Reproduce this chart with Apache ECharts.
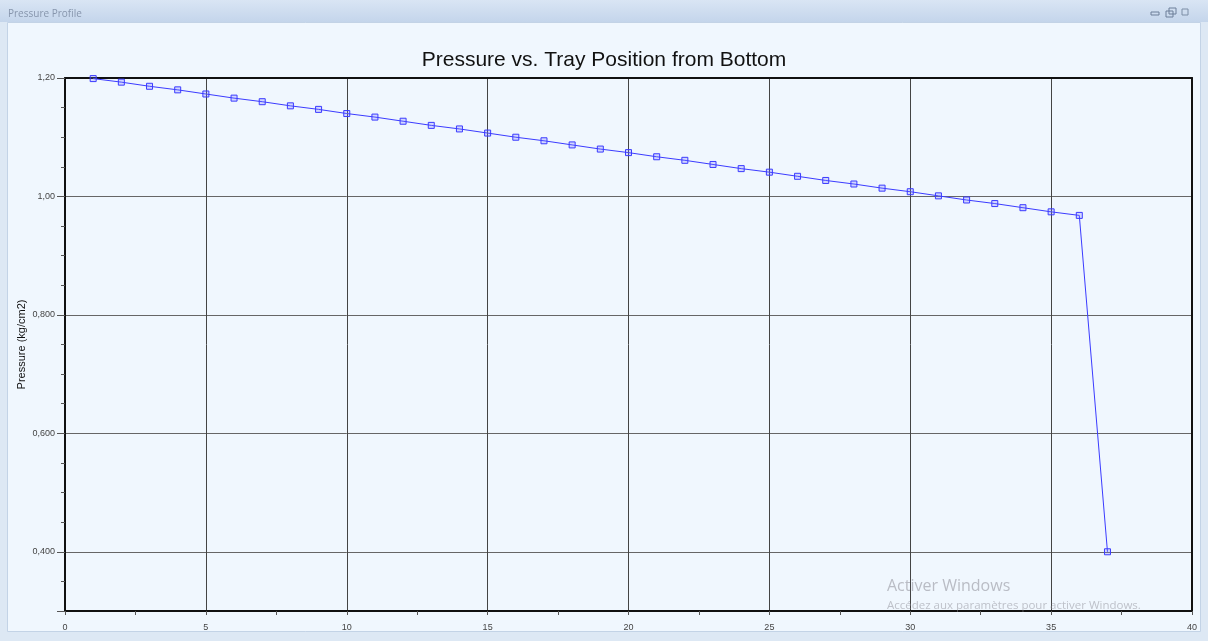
<!DOCTYPE html>
<html>
<head>
<meta charset="utf-8">
<script src="https://cdn.jsdelivr.net/npm/echarts@6/dist/echarts.min.js"></script>
<style>
html,body{margin:0;padding:0;background:#dde8f4;}
#c{width:1208px;height:641px;}
</style>
</head>
<body>
<div id="c"></div>
<script>
// ---- data ----
const trays = [1,2,3,4,5,6,7,8,9,10,11,12,13,14,15,16,17,18,19,20,21,22,23,24,25,26,27,28,29,30,31,32,33,34,35,36,37];
const pressure = [1.199,1.193,1.186,1.180,1.173,1.166,1.160,1.153,1.147,1.140,1.134,1.127,1.120,1.114,1.107,1.100,1.094,1.087,1.080,1.074,1.067,1.061,1.054,1.047,1.041,1.034,1.027,1.021,1.014,1.008,1.001,0.994,0.988,0.981,0.974,0.968,0.400];
const yLabels = {'0.4':'0,400','0.6':'0,600','0.8':'0,800','1':'1,00','1.2':'1,20'};
const chartTitle = 'Pressure vs. Tray Position from Bottom';
const windowTitle = 'Pressure Profile';
const yName = 'Pressure (kg/cm2)';

const points = trays.map((t, i) => [t, pressure[i]]);
const font = '"Liberation Sans", Arial, sans-serif';
const frameAxis = {axisLine: {show: true, onZero: false, lineStyle: {color: '#111', width: 2}}, axisTick: {show: false}, axisLabel: {show: false}, splitLine: {show: false}};
const chart = echarts.init(document.getElementById('c'), null, {renderer: 'canvas'});
chart.setOption({
  backgroundColor: '#dde8f4',
  animation: false,
  title: {
    text: chartTitle, left: 'center', top: 45,
    textStyle: {fontFamily: font, fontSize: 21, fontWeight: 'normal', color: '#111'}
  },
  graphic: [
    {type: 'rect', z: -10, shape: {x: 0, y: 0, width: 1208, height: 22},
     style: {fill: new echarts.graphic.LinearGradient(0, 0, 0, 1, [{offset: 0, color: '#d9e5f4'}, {offset: 1, color: '#c4d5eb'}])}},
    {type: 'text', z: 5, left: 8, top: 9, style: {text: windowTitle, fontFamily: '"Open Sans", "Noto Sans", sans-serif', fontSize: 10, fill: '#8796ad'}},
    {type: 'rect', z: -9, shape: {x: 7.5, y: 22.5, width: 1193, height: 609}, style: {fill: '#f0f7fe', stroke: '#c3d3e6', lineWidth: 1}},
    {type: 'rect', z: 5, shape: {x: 1151, y: 12, width: 8, height: 3}, style: {fill: 'none', stroke: '#6d7f99', lineWidth: 1}},
    {type: 'rect', z: 5, shape: {x: 1166, y: 11, width: 7, height: 6}, style: {fill: 'none', stroke: '#6d7f99', lineWidth: 1}},
    {type: 'rect', z: 5, shape: {x: 1169, y: 8, width: 7, height: 6}, style: {fill: 'none', stroke: '#6d7f99', lineWidth: 1}},
    {type: 'rect', z: 5, shape: {x: 1182, y: 9, width: 6, height: 6}, style: {fill: 'none', stroke: '#7d8ea6', lineWidth: 1}},
    {type: 'text', z: 20, left: 887, top: 578, style: {text: 'Activer Windows', fontFamily: '"Open Sans", "Noto Sans", sans-serif', fontSize: 16, fill: 'rgba(140,140,150,0.55)'}},
    {type: 'text', z: 20, left: 887, top: 600, style: {text: 'Accédez aux paramètres pour activer Windows.', fontFamily: '"Open Sans", "Noto Sans", sans-serif', fontSize: 11.5, fill: 'rgba(140,140,150,0.5)'}}
  ],
  grid: {left: 65, right: 16, top: 78, bottom: 30, containLabel: false},
  xAxis: [
    {
      type: 'value', min: 0, max: 40, interval: 5,
      axisLine: {show: true, onZero: false, lineStyle: {color: '#111', width: 2}},
      axisTick: {show: true, length: 4, lineStyle: {color: '#555'}},
      minorTick: {show: true, splitNumber: 2, length: 4, lineStyle: {color: '#555'}},
      splitLine: {show: true, lineStyle: {color: '#444', width: 1}},
      axisLabel: {fontFamily: font, fontSize: 9, color: '#444', margin: 12}
    },
    Object.assign({type: 'value', min: 0, max: 40, position: 'top'}, frameAxis)
  ],
  yAxis: [
    {
      type: 'value', min: 0.3, max: 1.2, interval: 0.05,
      axisLine: {show: true, onZero: false, lineStyle: {color: '#111', width: 2}},
      axisTick: {show: true, length: 4, lineStyle: {color: '#555'}},
      splitLine: {show: false},
      axisLabel: {show: false},
      name: yName, nameLocation: 'middle', nameGap: 38, nameRotate: 90,
      nameTextStyle: {fontFamily: font, fontSize: 11, color: '#111'}
    },
    {
      type: 'value', min: 0.3, max: 1.2, splitNumber: 5, position: 'left',
      axisLine: {show: false},
      axisTick: {show: true, length: 8, lineStyle: {color: '#555'}},
      splitLine: {show: true, lineStyle: {color: '#666', width: 1}},
      axisLabel: {fontFamily: font, fontSize: 9, color: '#444', margin: 10,
        formatter: v => yLabels[String(Math.round(v * 100) / 100)] || ''}
    },
    Object.assign({type: 'value', min: 0.3, max: 1.2, position: 'right'}, frameAxis)
  ],
  series: [{
    type: 'line', data: points, yAxisIndex: 0,
    symbol: 'rect', symbolSize: 6, showAllSymbol: true,
    lineStyle: {color: '#3b3bff', width: 1},
    itemStyle: {color: 'rgba(120,120,255,0.25)', borderColor: '#3b3bff', borderWidth: 1},
    z: 10
  }]
});
</script>
</body>
</html>
